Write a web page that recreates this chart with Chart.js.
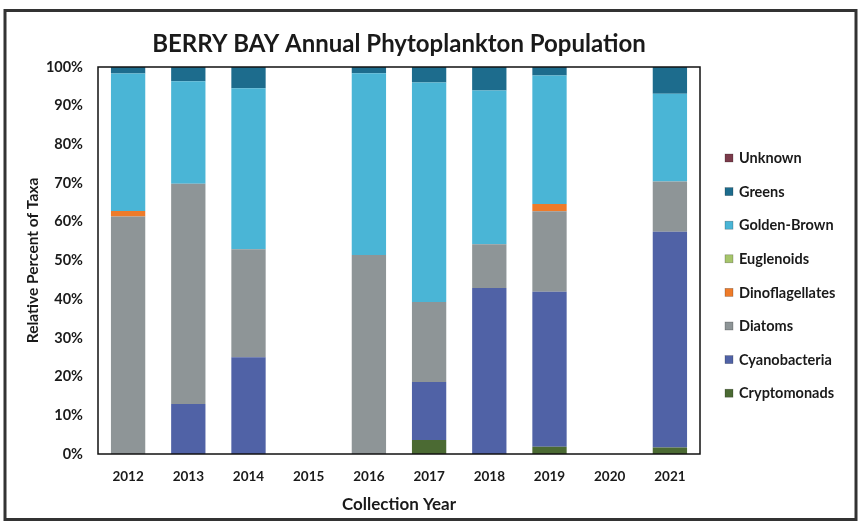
<!DOCTYPE html>
<html>
<head>
<meta charset="utf-8">
<script src="https://cdn.jsdelivr.net/npm/chart.js@4/dist/chart.umd.min.js"></script>
<style>
  html, body { margin: 0; padding: 0; background: #fff; }
  #wrap { width: 861px; height: 523px; position: relative; }
</style>
</head>
<body>
<div id="wrap"><canvas id="c" width="861" height="523"></canvas></div>
<script>
// Collection years on the x axis (2015 and 2020 have no samples)
const years = ['2012', '2013', '2014', '2015', '2016', '2017', '2018', '2019', '2020', '2021'];

// Relative percent of taxa per year, bottom of the stack first
const cryptomonads    = [0,    0,    0,    null, 0,    3.6,  0,    1.9,  null, 1.7];
const cyanobacteria   = [0,    12.9, 25.0, null, 0,    15.0, 42.9, 40.0, null, 55.7];
const diatoms         = [61.4, 56.9, 27.9, null, 51.4, 20.7, 11.3, 20.8, null, 13.0];
const dinoflagellates = [1.4,  0,    0,    null, 0,    0,    0,    1.9,  null, 0];
const euglenoids      = [0,    0,    0,    null, 0,    0,    0,    0,    null, 0];
const goldenBrown     = [35.5, 26.5, 41.6, null, 47.0, 56.7, 39.7, 33.2, null, 22.7];
const greens          = [1.7,  3.7,  5.5,  null, 1.6,  4.0,  6.1,  2.2,  null, 6.9];
const unknown         = [0,    0,    0,    null, 0,    0,    0,    0,    null, 0];

// Percentage tick values for the y axis
const yTicks = [0, 10, 20, 30, 40, 50, 60, 70, 80, 90, 100];

const FONT = 'Lato, "Open Sans", sans-serif';
const INK = '#1a1a1a';

function series(label, data, color) {
  return { label, data, backgroundColor: color, borderWidth: 0,
           barPercentage: 0.57, categoryPercentage: 1.0 };
}

// Outer frame, plot box, title and legend
const decorations = {
  id: 'decorations',
  afterDraw(chart) {
    const { ctx, chartArea: a } = chart;
    ctx.save();
    // outer frame
    ctx.strokeStyle = '#333';
    ctx.lineWidth = 3;
    ctx.strokeRect(5, 10.5, 851, 509);
    // plot box
    ctx.strokeStyle = '#111';
    ctx.lineWidth = 1.5;
    ctx.strokeRect(a.left, a.top, a.right - a.left, a.bottom - a.top);
    // title
    ctx.fillStyle = INK;
    ctx.font = 'bold 24px ' + FONT;
    ctx.textAlign = 'center';
    ctx.textBaseline = 'middle';
    ctx.fillText('BERRY BAY Annual Phytoplankton Population', (a.left + a.right) / 2, 44);
    // legend, top item is the top of the stack
    const ds = chart.data.datasets.slice().reverse();
    ctx.font = 'bold 14.5px ' + FONT;
    ctx.textAlign = 'left';
    ds.forEach((d, i) => {
      const y = 158 + i * 33.6;
      ctx.fillStyle = d.backgroundColor;
      ctx.fillRect(725, y - 4, 8, 8);
      ctx.strokeStyle = 'rgba(0,0,0,0.35)';
      ctx.lineWidth = 0.6;
      ctx.strokeRect(725, y - 4, 8, 8);
      ctx.fillStyle = INK;
      ctx.fillText(d.label, 739, y + 0.5);
    });
    ctx.restore();
  }
};

new Chart(document.getElementById('c'), {
  type: 'bar',
  data: {
    labels: years,
    datasets: [
      series('Cryptomonads', cryptomonads, '#4b6a33'),
      series('Cyanobacteria', cyanobacteria, '#5062a6'),
      series('Diatoms', diatoms, '#8e9597'),
      series('Dinoflagellates', dinoflagellates, '#ee7b2a'),
      series('Euglenoids', euglenoids, '#a6c56b'),
      series('Golden-Brown', goldenBrown, '#4ab5d6'),
      series('Greens', greens, '#1d6c8d'),
      series('Unknown', unknown, '#7b3b4b')
    ]
  },
  options: {
    responsive: false,
    animation: false,
    layout: { padding: { left: 8, right: 161, top: 67, bottom: 8 } },
    plugins: { legend: { display: false }, title: { display: false }, tooltip: { enabled: false } },
    scales: {
      x: {
        stacked: true,
        grid: { display: false, drawTicks: false },
        border: { display: false },
        ticks: { color: INK, font: { family: FONT, size: 13.5, weight: 'bold' }, padding: 15, maxRotation: 0 },
        title: { display: true, text: 'Collection Year', color: INK,
                 font: { family: FONT, size: 17, weight: 'bold' }, padding: { top: 0, bottom: 0 } },
        afterFit(s) { s.height = 523 - 8 - 454; }
      },
      y: {
        stacked: true,
        min: 0, max: 100,
        grid: { display: false, drawTicks: false },
        border: { display: false },
        afterBuildTicks(s) { s.ticks = yTicks.map(v => ({ value: v })); },
        ticks: { color: INK, font: { family: FONT, size: 14.5, weight: 'bold' }, padding: 15,
                 callback: v => v + '%' },
        title: { display: true, text: 'Relative Percent of Taxa', color: INK,
                 font: { family: FONT, size: 15.5, weight: 'bold' }, padding: { top: 15.5, bottom: 0 } },
        afterFit(s) { s.width = 98 - 8; }
      }
    }
  },
  plugins: [decorations]
});
</script>
</body>
</html>
